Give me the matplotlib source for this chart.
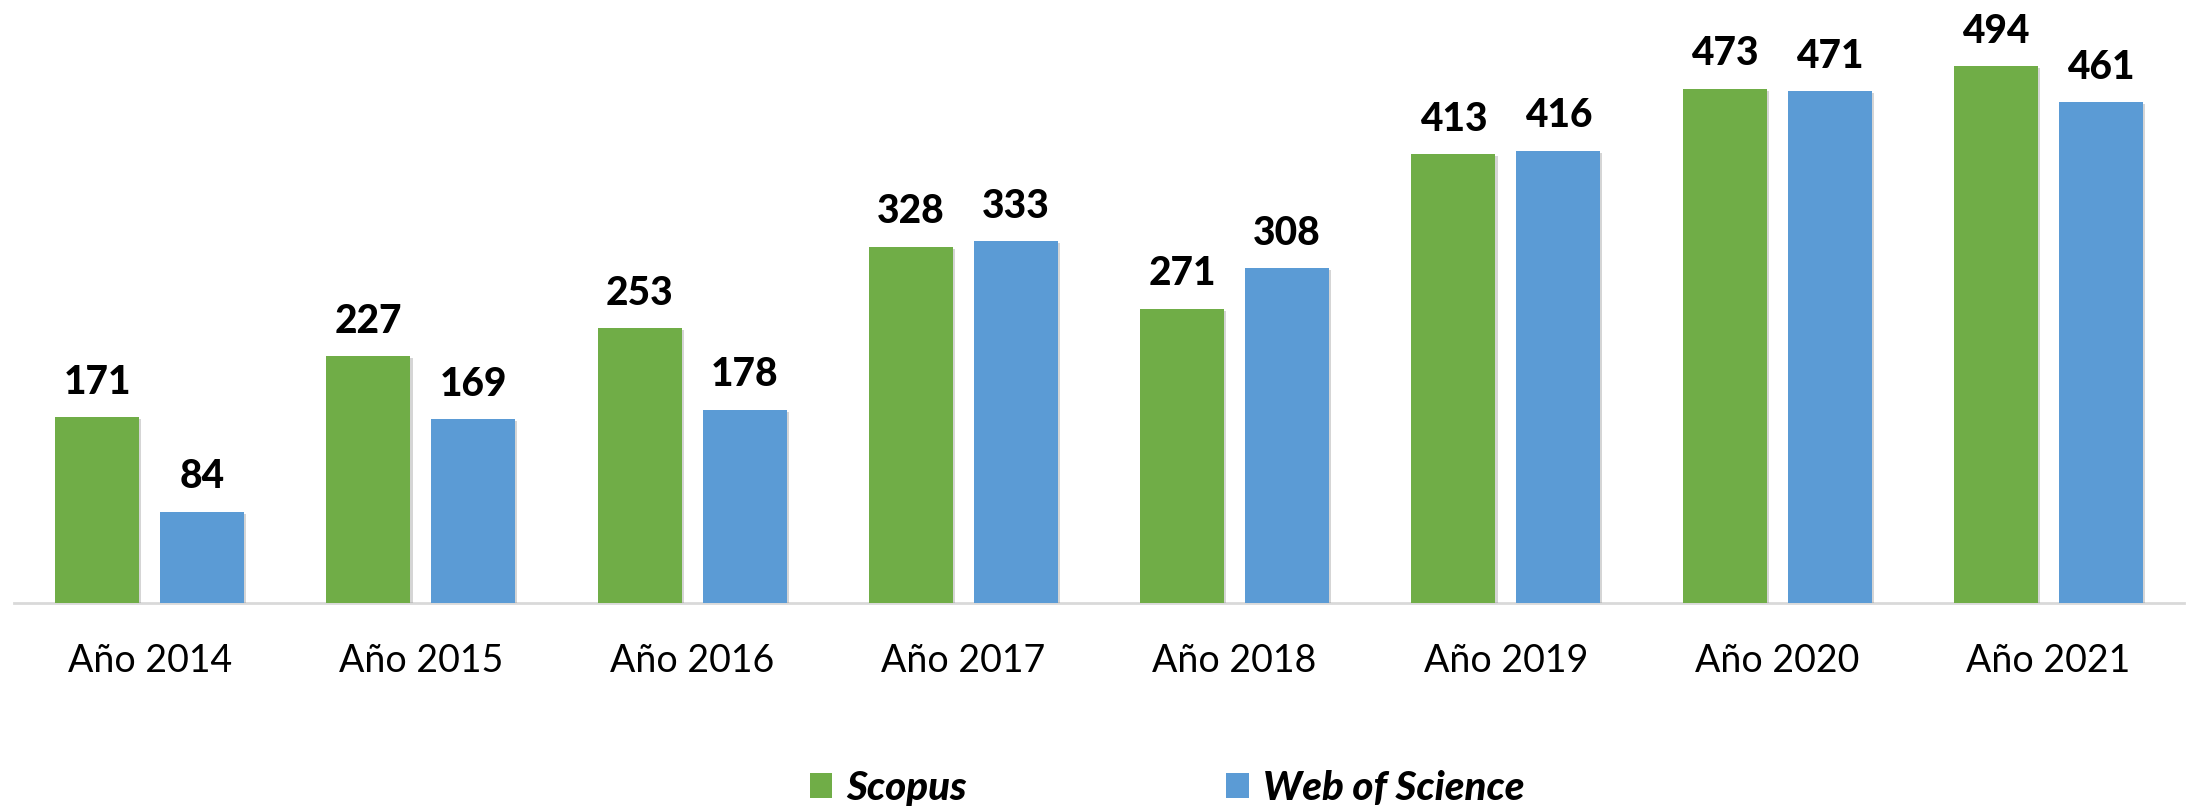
import matplotlib
matplotlib.use("Agg")
import matplotlib.pyplot as plt
import numpy as np
from matplotlib.patches import Patch
import matplotlib.patheffects as pe

categories = ["Año 2014", "Año 2015", "Año 2016", "Año 2017",
              "Año 2018", "Año 2019", "Año 2020", "Año 2021"]
scopus = [171, 227, 253, 328, 271, 413, 473, 494]
wos = [84, 169, 178, 333, 308, 416, 471, 461]
series_names = ["Scopus", "Web of Science"]
colors = ["#70AD47", "#5B9BD5"]

W, H = 2188, 806
fig = plt.figure(figsize=(W / 100, H / 100), dpi=100)
ax = fig.add_axes([14 / W, (H - 603) / H, 2170 / W, 603 / H])

x = np.arange(len(categories))
bw = 0.31
off = (bw + 0.077) / 2
shadow = [pe.SimplePatchShadow(offset=(1.5, -1.5), shadow_rgbFace="#888888", alpha=0.35), pe.Normal()]
for vals, sgn, col in [(scopus, -1, colors[0]), (wos, 1, colors[1])]:
    bars = ax.bar(x + sgn * off, vals, width=bw, color=col, zorder=3)
    for b in bars:
        b.set_path_effects(shadow)
    for xi, v in zip(x + sgn * off, vals):
        ax.annotate(str(v), (xi, v), xytext=(0, 17), textcoords="offset points",
                    ha="center", va="baseline", fontsize=28, fontweight="black",
                    family="Lato", color="black")

ax.set_xlim(-0.5, len(categories) - 0.5)
ax.set_ylim(0, 555)
for s in ["top", "left", "right"]:
    ax.spines[s].set_visible(False)
ax.spines["bottom"].set_color("#D9D9D9")
ax.spines["bottom"].set_linewidth(2)
ax.spines["bottom"].set_zorder(2)
ax.set_yticks([])
ax.set_xticks(x)
ax.set_xticklabels(categories, fontsize=27, family="Lato")
ax.tick_params(axis="x", length=0, pad=29)

handles = [Patch(facecolor=c, edgecolor="none") for c in colors]
fig.legend(handles, series_names, loc="center", bbox_to_anchor=(1167 / W, 0.022),
           ncol=2, frameon=False, handlelength=0.55, handleheight=0.6,
           handletextpad=0.35, columnspacing=6.45,
           prop={"family": "Lato", "size": 29, "weight": "black", "style": "italic"})

fig.savefig("out.png", dpi=100)
